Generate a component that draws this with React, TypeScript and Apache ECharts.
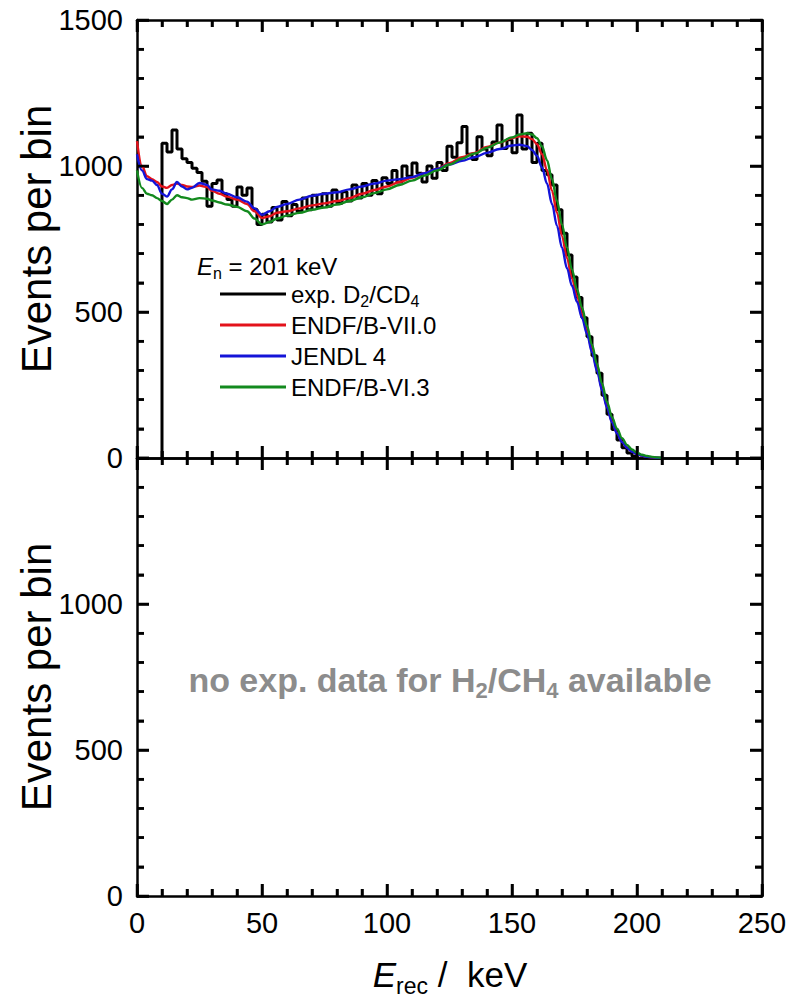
import React, { useEffect, useRef } from 'react';
import * as echarts from 'echarts';

// Recoil-energy grid (keV) for the simulated spectra
const energyGrid = [
  0, 2, 4, 6, 8, 10, 12, 14, 16, 18, 20, 22,
  25, 28, 30, 33, 36, 40, 44, 47, 50, 53, 56, 60,
  65, 70, 75, 80, 85, 90, 95, 100, 105, 110, 115, 120,
  125, 130, 135, 140, 145, 150, 153, 156, 158, 160,
  162, 164, 166, 168, 170, 172, 174, 176, 178, 180,
  182, 184, 186, 188, 190, 192, 194, 196, 198, 200,
  202, 204, 206, 208, 210,
];

const endfB7 = [
  1085, 1000, 965, 955, 945, 930, 925, 935, 940, 935, 930, 928,
  933, 928, 915, 905, 895, 885, 870, 845, 822, 828, 840, 845,
  855, 865, 872, 880, 890, 905, 918, 930, 945, 960, 975, 990,
  1010, 1030, 1045, 1065, 1080, 1095, 1102, 1100, 1092, 1075,
  1040, 985, 915, 840, 760, 685, 615, 555, 495, 435,
  370, 305, 238, 176, 125, 86, 56, 36, 22, 13,
  8, 4, 2, 1, 0,
];

const jendl4 = [
  1040, 985, 955, 950, 935, 905, 895, 920, 945, 930, 920, 925,
  942, 935, 920, 915, 905, 893, 878, 855, 833, 845, 860, 870,
  885, 898, 905, 910, 920, 930, 940, 950, 955, 962, 975, 990,
  1005, 1018, 1030, 1045, 1058, 1070, 1073, 1068, 1055, 1035,
  995, 940, 870, 795, 720, 650, 590, 535, 480, 425,
  362, 298, 233, 172, 122, 84, 55, 35, 21, 13,
  8, 4, 2, 1, 0,
];

const endfB6 = [
  985, 925, 905, 900, 890, 880, 870, 885, 900, 893, 890, 885,
  890, 888, 882, 875, 868, 860, 845, 820, 800, 808, 820, 830,
  840, 850, 858, 868, 880, 893, 907, 920, 935, 950, 967, 985,
  1005, 1025, 1043, 1062, 1080, 1098, 1108, 1112, 1108, 1095,
  1068, 1020, 955, 880, 800, 720, 645, 578, 515, 452,
  388, 322, 255, 192, 140, 100, 68, 45, 29, 18,
  11, 7, 4, 2, 1,
];

// Measured D2/CD4 spectrum: 2 keV bins starting at 10 keV
const expBinStart = 10;
const expBinWidth = 2;
const expCounts = [
  1078, 1048, 1123, 1058, 1025, 1012, 992, 978, 948, 862,
  940, 952, 905, 885, 862, 928, 900, 925, 852, 800,
  835, 808, 858, 815, 878, 830, 868, 845, 890, 850,
  900, 858, 905, 862, 918, 872, 912, 880, 935, 890,
  940, 900, 950, 905, 960, 940, 985, 945, 1000, 965,
  1010, 975, 945, 1000, 958, 1012, 985, 1068, 1030, 1080,
  1135, 1040, 1022, 1100, 1058, 1035, 1082, 1140, 1060, 1090,
  1045, 1175, 1058, 1112, 1012, 1078, 985, 970, 935, 850,
  770, 695, 620, 550, 480, 415, 350, 290, 215, 150,
  98, 62, 35, 17, 6, 0,
];

const seriesNames = ['exp. D2/CD4', 'ENDF/B-VII.0', 'JENDL 4', 'ENDF/B-VI.3'];
const seriesColors = ['#000000', '#e3121b', '#1414d8', '#138a1e'];

const xTicks = { min: 0, max: 250, interval: 50 };
const yTicks = { min: 0, max: 1500, interval: 500 };

// Frame tick positions (major every 50 keV / 500 events, minor in between)
const xTickValues = [0, 10, 20, 30, 40, 50, 60, 70, 80, 90, 100, 110, 120, 130, 140, 150, 160, 170, 180, 190, 200, 210, 220, 230, 240, 250];
const yTickValues = [0, 100, 200, 300, 400, 500, 600, 700, 800, 900, 1000, 1100, 1200, 1300, 1400, 1500];

const fontFamily = '"Liberation Sans", Arial, Helvetica, sans-serif';

export default function App() {
  const ref = useRef<HTMLDivElement>(null);

  useEffect(() => {
    if (!ref.current) return;
    const chart = echarts.init(ref.current, null, { renderer: 'svg' });

    const pairs = (ys: number[]) => energyGrid.map((e, i) => [e, ys[i]]);
    const expPoints: number[][] = [[expBinStart, 0]];
    expCounts.forEach((c, i) => expPoints.push([expBinStart + i * expBinWidth, c]));

    const black = '#000';
    const plain = (v: number) => String(v);
    const tickStyle = { color: black, width: 2.5 };

    const xAxis = (gridIndex: number, position: string, showLabels: boolean) => ({
      type: 'value',
      gridIndex,
      position,
      ...xTicks,
      axisLine: { show: true, onZero: false, lineStyle: { color: black, width: 2.5 } },
      axisTick: { show: true, inside: true, length: 12, lineStyle: tickStyle },
      minorTick: { show: true, splitNumber: 5, length: 7, lineStyle: tickStyle },
      splitLine: { show: false },
      minorSplitLine: { show: false },
      axisLabel: { show: showLabels, fontSize: 29, color: black, fontFamily, margin: 12, formatter: plain },
    });

    const yAxis = (gridIndex: number, position: string, showLabels: boolean, hideMax = false) => ({
      type: 'value',
      gridIndex,
      position,
      ...yTicks,
      axisLine: { show: true, onZero: false, lineStyle: { color: black, width: 2.5 } },
      axisTick: { show: true, inside: true, length: 12, lineStyle: tickStyle },
      minorTick: { show: true, splitNumber: 5, length: 7, lineStyle: tickStyle },
      splitLine: { show: false },
      minorSplitLine: { show: false },
      axisLabel: {
        show: showLabels,
        fontSize: 29,
        color: black,
        fontFamily,
        margin: 14,
        showMaxLabel: !hideMax,
        formatter: plain,
      },
    });

    const curve = (name: string, ys: number[], color: string) => ({
      type: 'line',
      name,
      xAxisIndex: 0,
      yAxisIndex: 0,
      data: pairs(ys),
      smooth: 0.35,
      smoothMonotone: 'x',
      symbol: 'none',
      showSymbol: false,
      lineStyle: { color, width: 2.4 },
      itemStyle: { color },
    });

    const tickLine = (x1: number, y1: number, x2: number, y2: number) => ({
      type: 'line',
      shape: { x1, y1, x2, y2 },
      style: { stroke: black, lineWidth: 2.5 },
    });

    // Inward-pointing frame ticks for one panel, placed through the axis scales
    const frameTicks = (gridIndex: number, kind: 'x' | 'y') => ({
      type: 'custom',
      xAxisIndex: gridIndex * 2,
      yAxisIndex: gridIndex * 2,
      silent: true,
      clip: false,
      z: 4,
      data: kind === 'x' ? xTickValues.map((v) => [v, 0]) : yTickValues.map((v) => [0, v]),
      renderItem: (params: any, api: any) => {
        const lowCorner = api.coord([xTicks.min, yTicks.min]);
        const highCorner = api.coord([xTicks.max, yTicks.max]);
        const left = lowCorner[0];
        const bottom = lowCorner[1];
        const right = highCorner[0];
        const top = highCorner[1];
        if (kind === 'x') {
          const v = api.value(0);
          const len = v % 50 === 0 ? 12 : 7;
          const px = api.coord([v, yTicks.min])[0];
          return {
            type: 'group',
            children: [tickLine(px, bottom, px, bottom - len), tickLine(px, top, px, top + len)],
          };
        }
        const v = api.value(1);
        const len = v % 500 === 0 ? 12 : 7;
        const py = api.coord([xTicks.min, v])[1];
        return {
          type: 'group',
          children: [tickLine(left, py, left + len, py), tickLine(right, py, right - len, py)],
        };
      },
    });

    const yTitle = (cy: number) => ({
      type: 'text',
      x: 36,
      y: cy,
      rotation: Math.PI / 2,
      style: {
        text: 'Events per bin',
        align: 'center',
        verticalAlign: 'middle',
        fill: black,
        fontSize: 42,
        fontFamily,
      },
    });

    chart.setOption({
      animation: false,
      backgroundColor: '#ffffff',
      grid: [
        { left: 137, top: 20, width: 625, height: 438 },
        { left: 137, top: 458, width: 625, height: 438 },
      ],
      xAxis: [
        xAxis(0, 'bottom', false),
        xAxis(0, 'top', false),
        xAxis(1, 'bottom', true),
        xAxis(1, 'top', false),
      ],
      yAxis: [
        yAxis(0, 'left', true),
        yAxis(0, 'right', false),
        yAxis(1, 'left', true, true),
        yAxis(1, 'right', false),
      ],
      legend: {
        orient: 'vertical',
        left: 215,
        top: 274,
        icon: 'rect',
        itemWidth: 66,
        itemHeight: 3,
        itemGap: 1,
        selectedMode: false,
        data: seriesNames,
        formatter: (name: string) =>
          name === 'exp. D2/CD4' ? '{t|exp. D}{s|2}{t|/CD}{s|4}' : '{t|' + name + '}',
        textStyle: {
          color: black,
          fontFamily,
          fontSize: 24,
          lineHeight: 30,
          rich: {
            t: { fontSize: 24, fontFamily, color: black, lineHeight: 30 },
            s: { fontSize: 16, fontFamily, color: black, lineHeight: 15, verticalAlign: 'bottom' },
          },
        },
      },
      graphic: [
        yTitle(239),
        yTitle(677),
        {
          type: 'text',
          x: 450,
          y: 974,
          style: {
            text: '{it|E}{sub|rec}{txt| /  keV}',
            align: 'center',
            verticalAlign: 'middle',
            fill: black,
            rich: {
              it: { fontSize: 35, fontStyle: 'italic', fontFamily, fill: black, lineHeight: 46 },
              sub: { fontSize: 23, fontFamily, fill: black, lineHeight: 22, verticalAlign: 'bottom' },
              txt: { fontSize: 35, fontFamily, fill: black, lineHeight: 46 },
            },
          },
        },
        {
          type: 'text',
          x: 197,
          y: 266,
          style: {
            text: '{i|E}{s|n}{t| = 201 keV}',
            verticalAlign: 'middle',
            fill: black,
            rich: {
              i: { fontSize: 24, fontStyle: 'italic', fontFamily, fill: black, lineHeight: 30 },
              s: { fontSize: 16, fontFamily, fill: black, lineHeight: 15, verticalAlign: 'bottom' },
              t: { fontSize: 24, fontFamily, fill: black, lineHeight: 30 },
            },
          },
        },
        {
          type: 'text',
          x: 450,
          y: 680,
          style: {
            text: '{b|no exp. data for H}{s|2}{b|/CH}{s|4}{b| available}',
            align: 'center',
            verticalAlign: 'middle',
            fill: '#8c8c8c',
            rich: {
              b: { fontSize: 34, fontWeight: 'bold', fontFamily, fill: '#8c8c8c', lineHeight: 42 },
              s: { fontSize: 22, fontWeight: 'bold', fontFamily, fill: '#8c8c8c', lineHeight: 21, verticalAlign: 'bottom' },
            },
          },
        },
      ],
      series: [
        {
          type: 'line',
          name: seriesNames[0],
          xAxisIndex: 0,
          yAxisIndex: 0,
          data: expPoints,
          step: 'end',
          symbol: 'none',
          showSymbol: false,
          lineStyle: { color: seriesColors[0], width: 3 },
          itemStyle: { color: seriesColors[0] },
        },
        curve(seriesNames[1], endfB7, seriesColors[1]),
        curve(seriesNames[2], jendl4, seriesColors[2]),
        curve(seriesNames[3], endfB6, seriesColors[3]),
        frameTicks(0, 'x'),
        frameTicks(0, 'y'),
        frameTicks(1, 'x'),
        frameTicks(1, 'y'),
      ],
    });

    return () => chart.dispose();
  }, []);

  return (
    <div
      ref={ref}
      style={{ position: 'fixed', left: 0, top: 0, width: 802, height: 1007, background: '#fff' }}
    />
  );
}
